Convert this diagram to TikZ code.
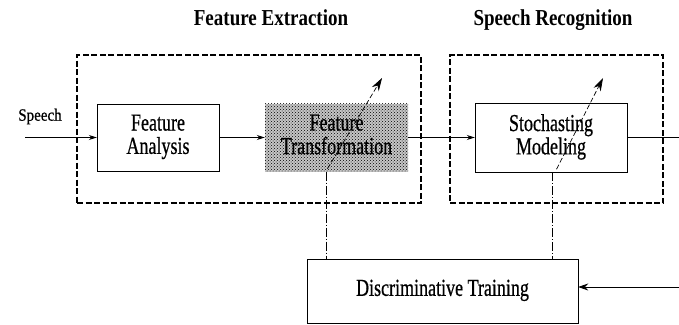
\documentclass[tikz,border=0pt]{standalone}
\usepackage{fontspec}
\setmainfont{Liberation Serif}
\newfontfamily\scanfont[RawFeature={embolden=0.8}]{Liberation Serif}
\usepackage{graphicx}
\usetikzlibrary{arrows.meta,calc,patterns}
\newcommand{\tallText}[2][1.35]{\scalebox{1}[#1]{\begin{tabular}{@{}c@{}}#2\end{tabular}}}

\begin{document}
\begin{tikzpicture}[x=1pt,y=-1pt,
    block_title/.style ={font={\fontsize{19pt}{20}\selectfont\bfseries}, inner sep=0pt},
    block_label/.style ={font={\scanfont\fontsize{15pt}{16}\selectfont}, inner sep=0pt},
    block_center/.style ={rectangle, draw=black, thin, fill=white,
      font={\scanfont\fontsize{18pt}{16}\selectfont}, inner sep=0pt},
    block_shaded/.style ={rectangle, draw=none, preaction={fill=gray!45},
      pattern=crosshatch dots, pattern color=black,
      font={\scanfont\fontsize{18pt}{16}\selectfont}, inner sep=0pt},
    block_frame/.style ={rectangle, draw=black, line width=1.6pt,
      dash pattern=on 6pt off 2.5pt, fill=none, inner sep=0pt},
    paths2/.style={draw, line width=0.8pt, -{Stealth[length=8pt, width=5pt]}},
    paths3/.style={draw, line width=0.8pt, -{Stealth[length=10pt, width=7pt]}},
    line/.style ={draw, line width=0.9pt},
    dashdot/.style={draw, line width=0.5pt, dash pattern=on 9pt off 2pt on 1pt off 2pt},
    diag/.style={draw, line width=0.7pt, dash pattern=on 5pt off 2.5pt,
      -{Stealth[length=13pt, width=8pt]}}]
    \useasboundingbox (0,0) rectangle (679,324);
    % frames and titles
    \node[block_frame, minimum width=344pt, minimum height=148pt] (fe_box) at (249,129) {};
    \node[block_frame, minimum width=213pt, minimum height=148pt] (sr_box) at (556.5,129) {};
    \node[block_title] (fe_title) at (271,21) {\tallText[1.2]{Feature Extraction}};
    \node[block_title] (sr_title) at (553,21) {\tallText[1.2]{Speech Recognition}};
    % blocks
    \node[block_center, minimum width=122pt, minimum height=67pt] (fa) at (158,137.5)
      {\tallText{Feature\\Analysis}};
    \node[block_shaded, minimum width=143pt, minimum height=68pt] (ft) at (336.5,137.5)
      {\tallText{Feature\\Transformation}};
    \node[block_center, minimum width=152pt, minimum height=69pt] (sm) at (551,137.5)
      {\tallText{Stochasting\\Modeling}};
    \node[block_center, minimum width=271pt, minimum height=64pt] (dt) at (442.5,291)
      {\tallText{Discriminative Training}};
    \node[block_label] (speech) at (40,117) {\tallText[1.15]{Speech}};
    % free ends
    \coordinate (in) at (25,137.5);
    \coordinate (out) at (679,137.5);
    \coordinate (fb) at (679,287);
    \coordinate (t1) at ($(ft.south west)!0.43!(ft.south east)$);
    \coordinate (t2) at ($(sm.south west)!0.51!(sm.south east)$);
    \coordinate (u1) at (382,78);
    \coordinate (u2) at (603,78);
    % connecting nodes with paths
    \path[paths2] (in) -- (fa);
    \path[paths2] (fa) -- (ft);
    \path[paths2] (ft) -- (sm);
    \path[line] (sm) -- (out);
    \path[paths3] (fb) -- (fb -| dt.east);
    \path[dashdot] (t1) -- (t1 |- dt.north);
    \path[dashdot] (t2) -- (t2 |- dt.north);
    \path[diag] ($(t1)+(1,-3)$) -- (u1);
    \path[diag] ($(t2)+(4,-3)$) -- (u2);
  \end{tikzpicture}
\end{document}
